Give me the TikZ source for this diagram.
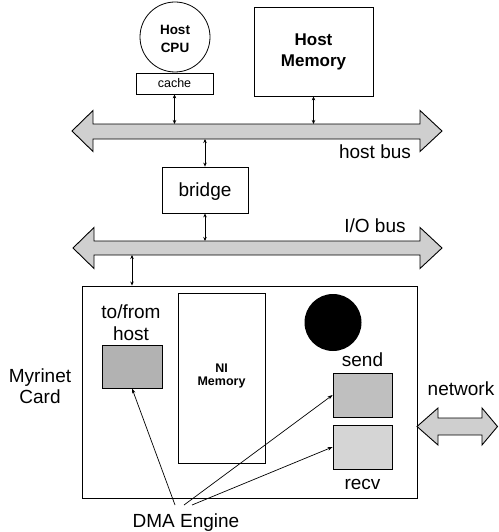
\documentclass[tikz,border=0pt]{standalone}
\usepackage{fontspec}
\setmainfont{Liberation Sans}
\usetikzlibrary{arrows.meta}
\tikzset{
  lbl/.style={inner sep=0pt, anchor=base, font=\fontsize{19}{21}\selectfont},
  box/.style={draw, line width=0.8pt, inner sep=0pt},
  busfill/.style={draw, line width=0.9pt, fill=gray!38},
  biarrow/.style={line width=0.8pt, {Stealth[length=4pt,width=3.5pt]}-{Stealth[length=4pt,width=3.5pt]}},
  dmaline/.style={line width=0.7pt, -{Stealth[length=5pt,width=3.5pt]}},
}
\begin{document}
\begin{tikzpicture}[x=1pt,y=-1pt]
\useasboundingbox (0,0) rectangle (498,532);
% host CPU and cache
\node[box, circle, minimum size=70pt] (cpu) at (175,37) {};
\node[inner sep=0pt, anchor=base, font=\fontsize{13.5}{15}\bfseries] (cpu1) at (175,35) {Host};
\node[inner sep=0pt, anchor=base, font=\fontsize{13.5}{15}\bfseries] (cpu2) at (175,53) {CPU};
\node[box, fill=white, minimum width=77pt, minimum height=21pt] (cache) at (174.5,83.5) {};
\node[inner sep=0pt, anchor=base, font=\fontsize{12.5}{14}\selectfont] (cachet) at (174.5,88) {cache};
% host memory
\node[box, minimum width=119pt, minimum height=89pt] (hmem) at (313.5,51.5) {};
\node[inner sep=0pt, anchor=base, font=\fontsize{17}{19}\bfseries] (hmem1) at (313.5,46) {Host};
\node[inner sep=0pt, anchor=base, font=\fontsize{17}{19}\bfseries] (hmem2) at (313.5,67) {Memory};
% host bus
\draw[busfill] (72,131) -- (93,110.5) -- (93,124) -- (420,124) -- (420,110.5) -- (442,131)
  -- (420,151.5) -- (420,139) -- (93,139) -- (93,151.5) -- cycle;
\coordinate (hbA) at (174.5,124);
\coordinate (hbB) at (313.5,124);
\coordinate (hbC) at (205,139);
\node[lbl] (hbus) at (375,158) {host bus};
% bridge
\node[box, minimum width=86pt, minimum height=46pt] (bridge) at (205,190) {};
\node[lbl] (bridget) at (205,196) {bridge};
% I/O bus
\draw[busfill] (73,248) -- (94,227.5) -- (94,241) -- (420,241) -- (420,227.5) -- (442,248)
  -- (420,268.5) -- (420,255) -- (94,255) -- (94,268.5) -- cycle;
\coordinate (ioA) at (205,241);
\coordinate (ioB) at (132,255);
\node[lbl] (iobus) at (375,232) {I/O bus};
% Myrinet card
\node[box, line width=0.9pt, minimum width=335pt, minimum height=212pt] (card) at (249.5,392) {};
\node[lbl] (myr1) at (40,382) {Myrinet};
\node[lbl] (myr2) at (40,403) {Card};
\node[box, minimum width=87pt, minimum height=170pt] (nimem) at (221.5,378) {};
\node[inner sep=0pt, anchor=base, font=\fontsize{12.5}{13}\bfseries] (ni1) at (221.5,372) {NI};
\node[inner sep=0pt, anchor=base, font=\fontsize{12.5}{13}\bfseries] (ni2) at (221.5,385) {Memory};
\node[lbl] (tf1) at (131,318) {to/from};
\node[lbl] (tf2) at (131,340) {host};
\node[box, fill=gray!60, minimum width=60pt, minimum height=43pt] (tofrom) at (132,366.5) {};
\node[circle, fill=black, inner sep=0pt, minimum size=57pt] (proc) at (333,322.5) {};
\node[lbl] (sendt) at (362.5,366) {send};
\node[box, fill=gray!50, minimum width=59pt, minimum height=44pt] (send) at (362.5,395) {};
\node[box, fill=gray!33, minimum width=59pt, minimum height=44pt] (recv) at (362.5,447) {};
\node[lbl] (recvt) at (362.5,489) {recv};
% network
\draw[busfill] (417,426.5) -- (438,408) -- (438,418) -- (482,418) -- (482,408) -- (497.5,426.5)
  -- (482,445) -- (482,435) -- (438,435) -- (438,445) -- cycle;
\node[lbl] (net) at (461,395) {network};
% DMA engine
\node[lbl] (dma) at (186,527) {DMA Engine};
\coordinate (dmaL) at (175,505);
\coordinate (dmaM) at (184,505);
\coordinate (dmaR) at (192,505);
% connectors
\draw[biarrow] (cache.south) -- (hbA);
\draw[biarrow] (hmem.south) -- (hbB);
\draw[biarrow] (hbC) -- (bridge.north);
\draw[biarrow] (bridge.south) -- (ioA);
\draw[biarrow] (ioB) -- (ioB |- card.north);
\draw[dmaline] (dmaL) -- (tofrom.south);
\draw[dmaline] (dmaM) -- (send.west);
\draw[dmaline] (dmaR) -- (recv.west);
\end{tikzpicture}
\end{document}
